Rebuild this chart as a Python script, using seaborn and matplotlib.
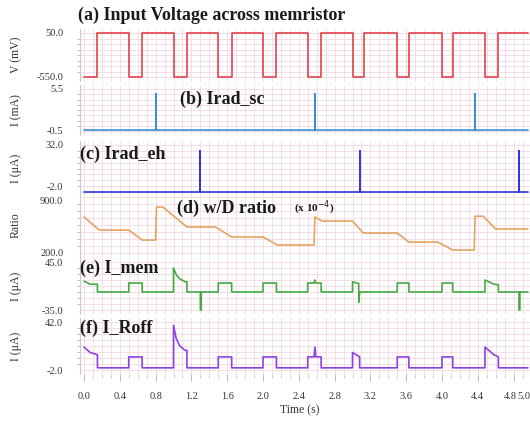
import matplotlib
matplotlib.use("Agg")
import matplotlib.pyplot as plt
import matplotlib.transforms as mtransforms
import seaborn as sns
import numpy as np
import pandas as pd
from matplotlib.ticker import MultipleLocator, FixedLocator

# ---------------- data ----------------
# (a) input voltage: square wave edges (s) and levels (mV)
volt_edges = [0.00, 0.15, 0.50, 0.65, 1.00, 1.15, 1.50, 1.65, 2.00, 2.15,
              2.50, 2.65, 3.00, 3.13, 3.50, 3.63, 4.00, 4.12, 4.48, 4.63, 4.96]
volt_levels = [-550, 50, -550, 50, -550, 50, -550, 50, -550, 50,
               -550, 50, -550, 50, -550, 50, -550, 50, -550, 50]

# (b) Irad_sc pulses (mA)
sc_times = [0.80, 2.58, 4.37]
sc_peak = [4.8, 4.8, 4.8]
sc_base = -0.4

# (c) Irad_eh pulses (uA)
eh_times = [1.30, 3.08, 4.86]
eh_peak = [27.5, 27.5, 27.5]
eh_base = -2.0

# (d) w/D ratio (x 1e-4)
ratio_t = [0.00, 0.17, 0.50, 0.65, 0.80, 0.81, 0.88, 1.15, 1.47, 1.65,
           2.00, 2.16, 2.57, 2.58, 2.66, 3.00, 3.12, 3.50, 3.63, 3.95,
           4.12, 4.36, 4.37, 4.46, 4.60, 4.96]
ratio_v = [650, 487, 487, 362, 362, 775, 775, 525, 525, 400,
           400, 300, 300, 650, 600, 600, 450, 450, 337, 337,
           237, 237, 660, 660, 500, 500]

# (e) memristor current (uA)
imem_t = [0.00, 0.07, 0.15, 0.15, 0.50, 0.50, 0.65, 0.65,
          1.00, 1.00, 1.03, 1.07, 1.13, 1.15, 1.15,
          1.30, 1.30, 1.31, 1.31,
          1.50, 1.50, 1.65, 1.65, 2.00, 2.00, 2.15, 2.15,
          2.50, 2.50, 2.57, 2.58, 2.59, 2.65, 2.65,
          3.00, 3.00, 3.07, 3.07, 3.08,
          3.50, 3.50, 3.63, 3.63, 4.00, 4.00, 4.12, 4.12,
          4.48, 4.48, 4.58, 4.63, 4.63,
          4.86, 4.86, 4.87, 4.87, 4.96]
imem_v = [13, 8, 8, -5, -5, 10, 10, -5,
          -5, 35, 24, 17, 12, 12, -5,
          -5, -35, -35, -5,
          -5, 10, 10, -5, -5, 10, 10, -5,
          -5, 10, 10, 15, 10, 10, -5,
          -5, 12, 9, -22, -5,
          -5, 10, 10, -5, -5, 10, 10, -5,
          -5, 15, 8, 7, -5,
          -5, -35, -35, -5, -5]

# (f) current through R_off (uA)
iroff_t = [0.00, 0.07, 0.15, 0.15, 0.50, 0.50, 0.65, 0.65,
           1.00, 1.00, 1.03, 1.07, 1.13, 1.15, 1.15,
           1.50, 1.50, 1.65, 1.65, 2.00, 2.00, 2.15, 2.15,
           2.50, 2.50, 2.57, 2.58, 2.59, 2.65, 2.65,
           3.00, 3.00, 3.08, 3.08,
           3.50, 3.50, 3.63, 3.63, 4.00, 4.00, 4.12, 4.12,
           4.48, 4.48, 4.58, 4.63, 4.63, 4.96]
iroff_v = [19, 14, 12, 0, 0, 10, 10, 0,
           0, 39, 27, 20, 16, 16, 0,
           0, 10, 10, 0, 0, 10, 10, 0,
           0, 10, 10, 19, 10, 10, 0,
           0, 14, 10, 0,
           0, 10, 10, 0, 0, 10, 10, 0,
           0, 19, 12, 10, 0, 0]

time_ticks = [0.0, 0.4, 0.8, 1.2, 1.6, 2.0, 2.4, 2.8, 3.2, 3.6, 4.0, 4.4, 4.8, 5.0]

# ---------------- style ----------------
sns.set_theme(style="white")
plt.rcParams["font.family"] = ["Liberation Serif", "DejaVu Serif"]
plt.rcParams["axes.unicode_minus"] = False

W, H = 530, 421
fig = plt.figure(figsize=(W / 100, H / 100), dpi=100)

X_LEFT_PX, PX_PER_S = 84.0, 89.5
XLIM = (-0.045, 5.0)


def pulse_path(times, peaks, base, t_end):
    xs, ys = [0.0], [base]
    for t, p in zip(times, peaks):
        xs += [t, t, t]
        ys += [base, p, base]
    xs.append(t_end)
    ys.append(base)
    return xs, ys


def make_panel(top_px, bot_px, lo, hi, ylabel, pad=4):
    y0, y1 = top_px - pad, bot_px + pad
    left_px = X_LEFT_PX + XLIM[0] * PX_PER_S
    width_px = (XLIM[1] - XLIM[0]) * PX_PER_S
    ax = fig.add_axes([left_px / W, 1 - y1 / H, width_px / W, (y1 - y0) / H])
    per_px = (hi - lo) / (bot_px - top_px)
    ax.set_ylim(lo - pad * per_px, hi + pad * per_px)
    ax.set_xlim(*XLIM)
    ax.patch.set_alpha(0)
    ax.set_axisbelow(True)
    for s in ("top", "right", "bottom"):
        ax.spines[s].set_visible(False)
    ax.spines["left"].set_color("#c9c9c9")
    ax.spines["left"].set_linewidth(0.8)
    ax.set_yticks([lo, hi])
    ax.set_yticklabels([f"{lo:.1f}", f"{hi:.1f}"])
    ax.yaxis.set_minor_locator(FixedLocator(np.linspace(lo, hi, 9)))
    ax.xaxis.set_major_locator(MultipleLocator(0.4))
    ax.xaxis.set_minor_locator(MultipleLocator(0.1))
    ax.grid(which="both", color="#f1d9e0", linewidth=0.6)
    ax.tick_params(axis="y", which="major", length=0, pad=12, labelsize=7.5,
                   labelcolor="#333333")
    ax.tick_params(axis="y", which="minor", length=2.5, width=0.6,
                   color="#b5b5b5", left=True)
    ax.tick_params(axis="x", which="both", bottom=False, labelbottom=False)
    ax.set_xlabel("")
    fig.text(16 / W, 1 - ((top_px + bot_px) / 2) / H, ylabel, rotation=90,
             ha="center", va="center", fontsize=8.5, color="#333333")
    return ax


def plot_series(ax, x, y, color, **kw):
    df = pd.DataFrame({"t": x, "v": y})
    sns.lineplot(data=df, x="t", y="v", ax=ax, color=color, linewidth=1.2,
                 sort=False, estimator=None, legend=False, **kw)
    ax.set_xlabel("")
    ax.set_ylabel("")


# (a)
ax_a = make_panel(33, 77, -550, 50, "V (mV)")
plot_series(ax_a, volt_edges, volt_levels + [volt_levels[-1]], "#e4424c",
            drawstyle="steps-post")

# (b)
ax_b = make_panel(89, 131, -0.5, 5.5, "I (mA)")
sx, sy = pulse_path(sc_times, sc_peak, sc_base, 4.96)
plot_series(ax_b, sx, sy, "#3b8fd6")

# (c)
ax_c = make_panel(145, 192, -2.0, 32.0, "I (\u03bcA)")
ex, ey = pulse_path(eh_times, eh_peak, eh_base, 4.96)
plot_series(ax_c, ex, ey, "#3434e0")
ax_c.get_yticklabels()[0].set_va("bottom")

# (d)
ax_d = make_panel(197, 253, 200, 900, "Ratio")
plot_series(ax_d, ratio_t, ratio_v, "#e6a264")
ax_d.get_yticklabels()[1].set_va("top")

# (e)
ax_e = make_panel(262, 310, -35, 45, "I (\u03bcA)")
plot_series(ax_e, imem_t, imem_v, "#44aa44")

# (f)
ax_f = make_panel(322, 370, -2.0, 42.0, "I (\u03bcA)")
plot_series(ax_f, iroff_t, iroff_v, "#8c42e2")
ax_f.set_xticks(time_ticks)
ax_f.set_xticklabels([f"{t:.1f}" for t in time_ticks])
ax_f.tick_params(axis="x", which="major", bottom=True, labelbottom=True,
                 length=5, width=0.6, color="#b8a8b0", labelsize=7.5,
                 labelcolor="#333333", pad=8)
ax_f.tick_params(axis="x", which="minor", bottom=True, length=3, width=0.5,
                 color="#c8b8c0")
# the last two time labels sit close together at the right edge
xlabels = ax_f.get_xticklabels()
xlabels[-2].set_ha("right")
xlabels[-2].set_transform(xlabels[-2].get_transform() +
                          mtransforms.ScaledTranslation(3 / 100, 0, fig.dpi_scale_trans))
xlabels[-1].set_ha("right")
xlabels[-1].set_transform(xlabels[-1].get_transform() +
                          mtransforms.ScaledTranslation(-1.5 / 100, 0, fig.dpi_scale_trans))
fig.text(300 / W, 1 - 410 / H, "Time (s)", ha="center", va="center",
         fontsize=8.5, color="#333333")

# panel captions
cap = dict(fontsize=13, fontweight="bold", color="#1a1a1a", va="center")
fig.text(78 / W, 1 - 15 / H, "(a) Input Voltage across memristor", **cap)
fig.text(180 / W, 1 - 99 / H, "(b) Irad_sc", **cap)
fig.text(80 / W, 1 - 154 / H, "(c) Irad_eh", **cap)
fig.text(177 / W, 1 - 208 / H, "(d) w/D ratio", **cap)
fig.text(294 / W, 1 - 208 / H, r"(x 10$^{-4}$)", fontsize=8, fontweight="bold",
         color="#1a1a1a", va="center")
fig.text(80 / W, 1 - 268 / H, "(e) I_mem", **cap)
fig.text(80 / W, 1 - 328 / H, "(f) I_Roff", **cap)

fig.savefig("out.png", dpi=100)
